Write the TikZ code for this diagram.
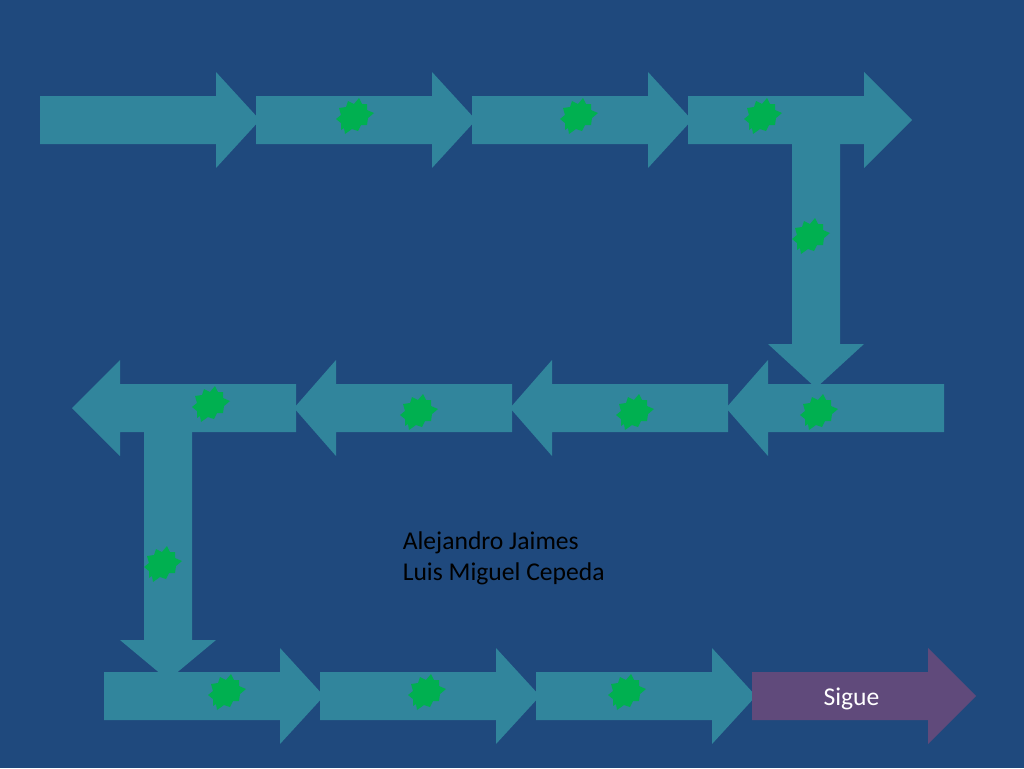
\documentclass[tikz,border=0pt]{standalone}
\usepackage{fontspec}
\setmainfont{Carlito}
\definecolor{bgblue}{HTML}{1F497D}
\definecolor{teal}{HTML}{31859C}
\definecolor{plum}{HTML}{604A7B}
\definecolor{leaf}{HTML}{00B050}
\newcommand{\harrow}[5][teal]{% colour, tail x, neck x, tip x, mid y
  \fill[#1] (#2,#5-24) -- (#3,#5-24) -- (#3,#5-48) -- (#4,#5) -- (#3,#5+48) -- (#3,#5+24) -- (#2,#5+24) -- cycle;}
\newcommand{\varrow}[4]{% mid x, tail y, neck y, tip y
  \fill[teal] (#1-24,#2) -- (#1-24,#3) -- (#1-48,#3) -- (#1,#4) -- (#1+48,#3) -- (#1+24,#3) -- (#1+24,#2) -- cycle;}
\tikzset{
  blob/.pic={\fill[leaf] (-13,14) -- (-13,7) -- (-18,3) -- (-13,-1) -- (-15,-8) -- (-8,-9) -- (-6,-15) -- (0,-12) -- (5,-18) -- (8,-12) -- (13,-12) -- (13,-6) -- (20,-3) -- (14,2) -- (13,9) -- (7,9) -- (4,15) -- (-2,13) -- (-9,18) -- (-10,12) -- cycle;},
  label text/.style={font=\fontsize{19.2pt}{23pt}\selectfont,inner sep=0pt}
}
\begin{document}
\begin{tikzpicture}[x=0.75pt,y=-0.75pt]
\useasboundingbox (0,0) rectangle (1024,768);
\fill[bgblue] (0,0) rectangle (1024,768);
% first row
\harrow{40}{216}{260}{120}
\harrow{256}{432}{476}{120}
\harrow{472}{648}{692}{120}
\harrow{688}{864}{912}{120}
\varrow{816}{140}{344}{388}
% second row
\harrow{944}{768}{726}{408}
\harrow{728}{552}{510}{408}
\harrow{512}{336}{294}{408}
\harrow{296}{120}{72}{408}
\varrow{168}{428}{640}{680}
% third row
\harrow{104}{280}{324}{696}
\harrow{320}{496}{540}{696}
\harrow{536}{712}{756}{696}
\harrow[plum]{752}{928}{976}{696}
% blobs
\foreach \x/\y in {354/116,578/116,762/116,810/236,818/412,634/412,418/412,210/404,162/564,226/692,426/692,626/692}
  \pic at (\x,\y) {blob};
% labels
\node[label text,text=white,anchor=base] (sigue) at (851.5,705) {Sigue};
\node[label text,text=black,anchor=base west] (name1) at (402.5,549) {Alejandro Jaimes};
\node[label text,text=black,anchor=base west] (name2) at (402.5,580) {Luis Miguel Cepeda};
\end{tikzpicture}
\end{document}
